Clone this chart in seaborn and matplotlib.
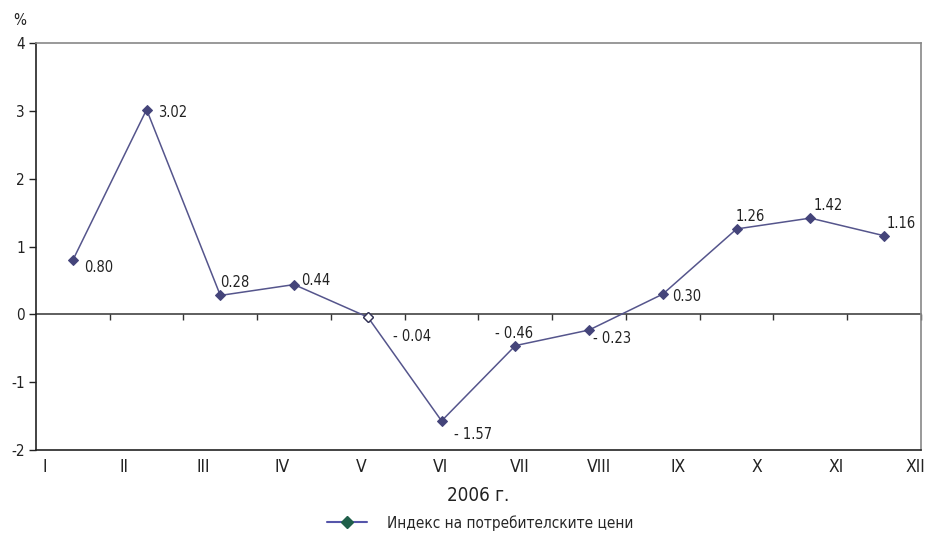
import matplotlib
matplotlib.use("Agg")
import matplotlib.pyplot as plt
from matplotlib.lines import Line2D
import seaborn as sns
import pandas as pd
import numpy as np

months = ["I", "II", "III", "IV", "V", "VI", "VII", "VIII", "IX", "X", "XI", "XII"]
cpi = [0.80, 3.02, 0.28, 0.44, -0.04, -1.57, -0.46, -0.23, 0.30, 1.26, 1.42, 1.16]
yticks = [-2, -1, 0, 1, 2, 3, 4]
year_label = "2006 г."
series_name = "Индекс на потребителските цени"

sns.set_theme(style="white")
plt.rcParams["font.family"] = ["Liberation Sans Narrow", "DejaVu Sans"]
plt.rcParams["font.stretch"] = "condensed"

line_col = "#55558c"
mark_col = "#44447a"

df = pd.DataFrame({"pos": np.arange(len(months)), "value": cpi})

fig = plt.figure(figsize=(9.27, 5.39), dpi=100)
ax = fig.add_axes([0.0388, 0.165, 0.9547, 0.755])

sns.lineplot(data=df, x="pos", y="value", ax=ax, color=line_col, linewidth=1.1,
             marker="D", markersize=5.5, markeredgecolor=mark_col,
             markerfacecolor=mark_col, legend=False)
# the May point is drawn hollow
ax.plot(df["pos"][4], df["value"][4], marker="D", markersize=5.5,
        markerfacecolor="white", markeredgecolor="#333355", zorder=5)

ax.set_xlim(-0.5, len(months) - 0.5)
ax.set_ylim(-2, 4)
ax.set_yticks(yticks)
ax.set_yticklabels([str(v) for v in yticks], fontsize=11, color="#222222")
ax.tick_params(axis="y", direction="out", length=5, width=1, color="#222222", pad=3, left=True)

# month labels spread across the full bottom edge
label_pos = np.linspace(-0.38, 11.42, len(months))
ax.set_xticks(label_pos)
ax.set_xticklabels(months, fontsize=12.5, color="#222222")
ax.tick_params(axis="x", length=0, pad=6)
ax.set_xlabel(year_label, fontsize=13.5, color="#222222", labelpad=7)
ax.set_ylabel("")

for side in ("left", "bottom"):
    ax.spines[side].set_color("#222222")
    ax.spines[side].set_linewidth(1.2)
for side in ("top", "right"):
    ax.spines[side].set_color("#888888")
    ax.spines[side].set_linewidth(1.2)

# zero line with category boundary ticks
zero = ax.secondary_xaxis((0 - (-2)) / 6)
zero.set_xticks(np.arange(len(months)) + 0.5)
zero.set_xticklabels([])
zero.tick_params(direction="out", length=4, width=1, color="#333333")
zero.spines["bottom"].set_color("#333333")
zero.spines["bottom"].set_linewidth(1.1)

# value labels
offsets = [(8, -5), (8, -2), (0, 9), (5, 3), (18, -14), (9, -10), (-15, 9), (3, -6),
           (7, -2), (-1, 9), (2, 9), (2, 9)]
for x, v, (dx, dy) in zip(df["pos"], cpi, offsets):
    txt = f"{v:.2f}" if v >= 0 else f"- {abs(v):.2f}"
    ax.annotate(txt, (x, v), xytext=(dx, dy), textcoords="offset points",
                ha="left", va="center", fontsize=10.5, color="#222222")

fig.text(0.0215, 0.962, "%", fontsize=11, color="#222222", ha="center", va="center")

handle = Line2D([], [], color="#5555aa", linewidth=1.5, marker="D", markersize=6,
                markerfacecolor="#1f5f4a", markeredgecolor="#1f5f4a")
fig.legend([handle], [series_name], loc="center", bbox_to_anchor=(0.518, 0.03),
           frameon=False, fontsize=11, handlelength=2.6, handletextpad=1.3)

fig.savefig("out.png", dpi=100)
